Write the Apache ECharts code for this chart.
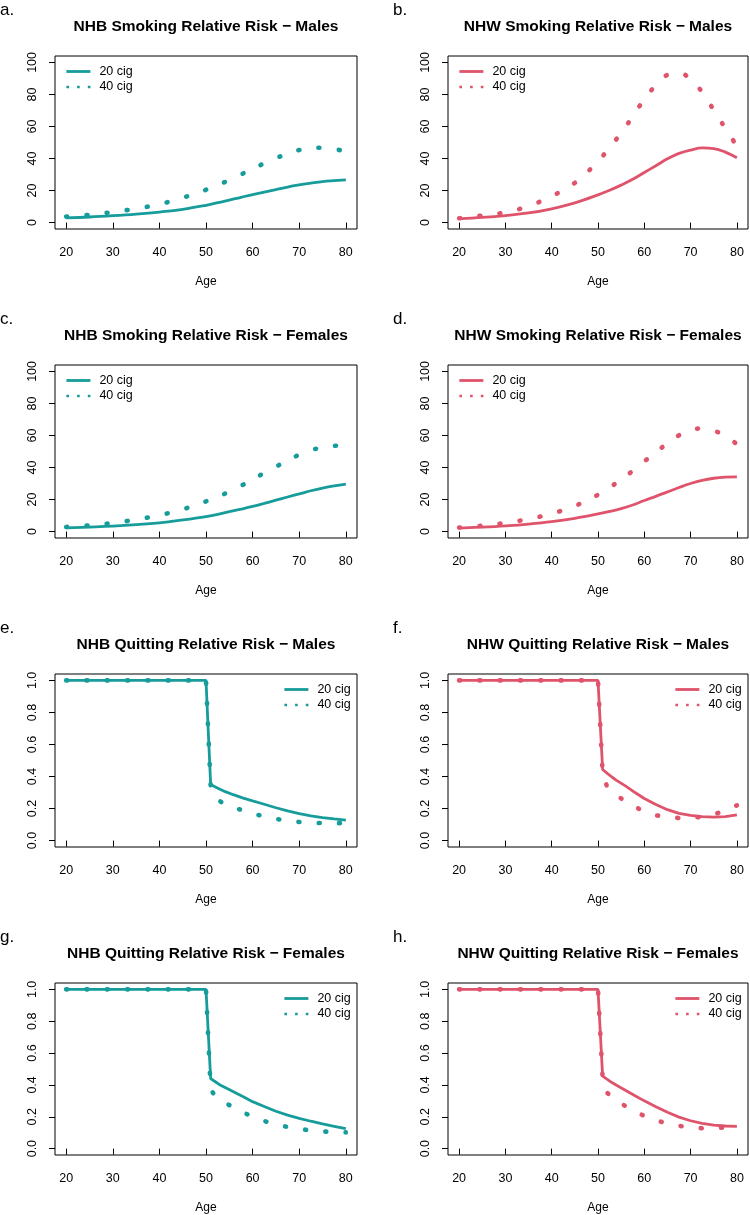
<!DOCTYPE html>
<html><head><meta charset="utf-8">
<script src="https://cdn.jsdelivr.net/npm/echarts@6/dist/echarts.min.js"></script>
<style>html,body{margin:0;padding:0;background:#fff}#c{width:750px;height:1215px}</style>
</head><body><div id="c"></div>
<script>
// ---- data ----
const agesSmoke = [20,25,30,35,40,45,50,52.5,55,57.5,60,62.5,65,67.5,70,72.5,75,77.5,80];
const nhbMaleSmoke20   = [3.0,3.5,4.3,5.3,6.6,8.3,10.8,12.4,14.0,15.8,17.4,19.0,20.6,22.2,23.5,24.6,25.6,26.2,26.7];
const nhbMaleSmoke40   = [3.7,4.9,6.6,8.7,11.5,15.5,20.5,23.4,26.5,30.0,33.6,37.0,40.2,43.0,45.3,46.4,46.7,45.8,44.6];
const nhwMaleSmoke20   = [2.3,3.2,4.4,6.0,8.6,12.3,17.3,20.2,23.4,27.0,31.3,35.5,39.8,43.2,45.3,46.6,46.2,44.0,40.5];
const nhwMaleSmoke40   = [2.7,4.4,6.4,10.3,16.5,24.8,38.2,46.9,55.9,66.3,77.0,85.8,92.2,93.3,89.6,81.4,70.3,58.9,47.7];
const nhbFemaleSmoke20 = [2.3,2.8,3.4,4.3,5.5,7.3,9.4,10.8,12.4,14.0,15.7,17.6,19.6,21.6,23.5,25.5,27.2,28.5,29.6];
const nhbFemaleSmoke40 = [2.9,3.9,5.4,7.5,10.2,13.9,18.9,21.8,24.9,28.6,32.3,36.7,40.5,44.4,48.0,50.8,52.5,53.5,53.8];
const nhwFemaleSmoke20 = [2.2,2.8,3.6,4.7,6.2,8.3,11.0,12.6,14.4,16.6,19.4,22.0,24.8,27.5,30.0,32.0,33.3,34.0,34.2];
const nhwFemaleSmoke40 = [2.5,3.7,5.4,7.9,11.2,16.0,23.0,27.5,32.5,37.9,43.8,49.6,55.1,60.1,63.2,64.5,63.0,59.8,54.5];

const agesQuit = [20,50,51,52,53,54,56,58,60,62.5,65,67.5,70,72.5,75,77.5,80];
const nhbMaleQuit20   = [1,1,0.350,0.335,0.320,0.307,0.285,0.265,0.248,0.227,0.205,0.185,0.168,0.154,0.143,0.135,0.128];
const nhbMaleQuit40   = [1,1,0.340,0.285,0.246,0.228,0.205,0.188,0.168,0.151,0.135,0.124,0.116,0.111,0.109,0.108,0.110];
const nhwMaleQuit20   = [1,1,0.444,0.420,0.397,0.376,0.340,0.300,0.263,0.225,0.193,0.170,0.157,0.149,0.146,0.150,0.161];
const nhwMaleQuit40   = [1,1,0.420,0.333,0.308,0.283,0.243,0.209,0.184,0.158,0.147,0.141,0.141,0.149,0.163,0.188,0.220];
const nhbFemaleQuit20 = [1,1,0.440,0.420,0.400,0.385,0.355,0.325,0.295,0.265,0.235,0.210,0.190,0.172,0.155,0.140,0.125];
const nhbFemaleQuit40 = [1,1,0.370,0.330,0.310,0.290,0.257,0.227,0.200,0.173,0.153,0.136,0.124,0.114,0.108,0.104,0.102];
const nhwFemaleQuit20 = [1,1,0.455,0.435,0.415,0.398,0.365,0.332,0.300,0.263,0.228,0.198,0.175,0.158,0.147,0.142,0.140];
const nhwFemaleQuit40 = [1,1,0.440,0.350,0.327,0.304,0.265,0.233,0.205,0.178,0.157,0.143,0.134,0.128,0.129,0.133,0.138];

const xTicks = [20,30,40,50,60,70,80];
const smokeTicks = [0,20,40,60,80,100];
const quitTicks = [0,0.2,0.4,0.6,0.8,1.0];
const seriesNames = ['20 cig','40 cig'];
const xName = 'Age';
const titles = [
  'NHB Smoking Relative Risk \u2212 Males','NHW Smoking Relative Risk \u2212 Males',
  'NHB Smoking Relative Risk \u2212 Females','NHW Smoking Relative Risk \u2212 Females',
  'NHB Quitting Relative Risk \u2212 Males','NHW Quitting Relative Risk \u2212 Males',
  'NHB Quitting Relative Risk \u2212 Females','NHW Quitting Relative Risk \u2212 Females'];
const letters = ['a.','b.','c.','d.','e.','f.','g.','h.'];

// ---- styling / layout ----
const TEAL = '#169C9A', PINK = '#DF536B';
const FONT = "'Liberation Sans', Arial, Helvetica, sans-serif";
const panels = [
  {kind:'smoke', ages:agesSmoke, a:nhbMaleSmoke20,   b:nhbMaleSmoke40,   color:TEAL},
  {kind:'smoke', ages:agesSmoke, a:nhwMaleSmoke20,   b:nhwMaleSmoke40,   color:PINK},
  {kind:'smoke', ages:agesSmoke, a:nhbFemaleSmoke20, b:nhbFemaleSmoke40, color:TEAL},
  {kind:'smoke', ages:agesSmoke, a:nhwFemaleSmoke20, b:nhwFemaleSmoke40, color:PINK},
  {kind:'quit',  ages:agesQuit,  a:nhbMaleQuit20,    b:nhbMaleQuit40,    color:TEAL},
  {kind:'quit',  ages:agesQuit,  a:nhwMaleQuit20,    b:nhwMaleQuit40,    color:PINK},
  {kind:'quit',  ages:agesQuit,  a:nhbFemaleQuit20,  b:nhbFemaleQuit40,  color:TEAL},
  {kind:'quit',  ages:agesQuit,  a:nhwFemaleQuit20,  b:nhwFemaleQuit40,  color:PINK}
];
const colLeft = [55, 448], colWidth = [302, 300];
const rowTop = [56, 365, 674, 983], H = 173;
const letterX = [0, 393];

const option = {animation:false, backgroundColor:'#fff', grid:[], xAxis:[], yAxis:[], series:[], title:[], legend:[]};

panels.forEach((p, i) => {
  const col = i % 2, row = Math.floor(i / 2);
  const left = colLeft[col], width = colWidth[col], top = rowTop[row];
  const smoke = p.kind === 'smoke';
  option.grid.push({left, top, width, height:H, show:true, borderColor:'#000', borderWidth:1, backgroundColor:'transparent'});
  option.xAxis.push({
    type:'value', gridIndex:i, min:17.6, max:82.4,
    name:xName, nameLocation:'middle', nameGap:47,
    nameTextStyle:{fontSize:12, color:'#000', fontFamily:FONT},
    axisLine:{show:false},
    axisTick:{show:true, customValues:xTicks, length:6, lineStyle:{color:'#000', width:1}},
    axisLabel:{customValues:xTicks, margin:17, fontSize:12.5, color:'#000', fontFamily:FONT},
    splitLine:{show:false}
  });
  const yt = smoke ? smokeTicks : quitTicks;
  option.yAxis.push({
    type:'value', gridIndex:i,
    min: smoke ? -4 : -0.04, max: smoke ? 104 : 1.04,
    axisLine:{show:false},
    axisTick:{show:true, customValues:yt, length:6, lineStyle:{color:'#000', width:1}},
    axisLabel:{customValues:yt, rotate:90, margin:16, fontSize:12.5, color:'#000', fontFamily:FONT,
      formatter: v => smoke ? String(Math.round(v)) : Number(v).toFixed(1)},
    splitLine:{show:false}
  });
  option.series.push({
    type:'line', name:seriesNames[0], xAxisIndex:i, yAxisIndex:i,
    data: p.ages.map((a, k) => [a, p.a[k]]),
    symbol:'none', smooth: smoke ? 0.4 : false, silent:true,
    lineStyle:{color:p.color, width:2.8}, itemStyle:{color:p.color}
  });
  option.series.push({
    type:'line', name:seriesNames[1], xAxisIndex:i, yAxisIndex:i,
    data: p.ages.map((a, k) => [a, p.b[k]]),
    symbol:'none', smooth: smoke ? 0.4 : false, silent:true,
    lineStyle:{color:p.color, width:4.6, type:[1, 19.3], cap:'round'}, itemStyle:{color:p.color}
  });
  option.title.push({
    text:titles[i], left:left + width / 2, top:top - 37, textAlign:'center', padding:0,
    textStyle:{fontSize:15.5, fontWeight:'bold', color:'#000', fontFamily:FONT}
  });
  option.title.push({
    text:letters[i], left:letterX[col], top:top - 54, padding:0,
    textStyle:{fontSize:17, fontWeight:'normal', color:'#000', fontFamily:FONT}
  });
  const legLeft = smoke ? left + 10 : left + width - 74;
  const hidden = {color:'rgba(0,0,0,0)', opacity:0, borderWidth:0};
  option.legend.push({
    show:true, orient:'vertical', left:legLeft, top:top + 9, padding:0,
    itemWidth:24, itemHeight:14, itemGap:2.5, selectedMode:false,
    textStyle:{fontSize:12.5, color:'#000', fontFamily:FONT, padding:[0,0,0,4]},
    data:[
      {name:seriesNames[0], itemStyle:hidden, lineStyle:{color:p.color, width:2.8, type:'solid'}},
      {name:seriesNames[1], itemStyle:hidden, lineStyle:{color:p.color, width:2.6, type:[2.6, 8.1], cap:'butt'}}
    ]
  });
});

const chart = echarts.init(document.getElementById('c'), null, {renderer:'canvas'});
chart.setOption(option);
</script>
</body></html>
